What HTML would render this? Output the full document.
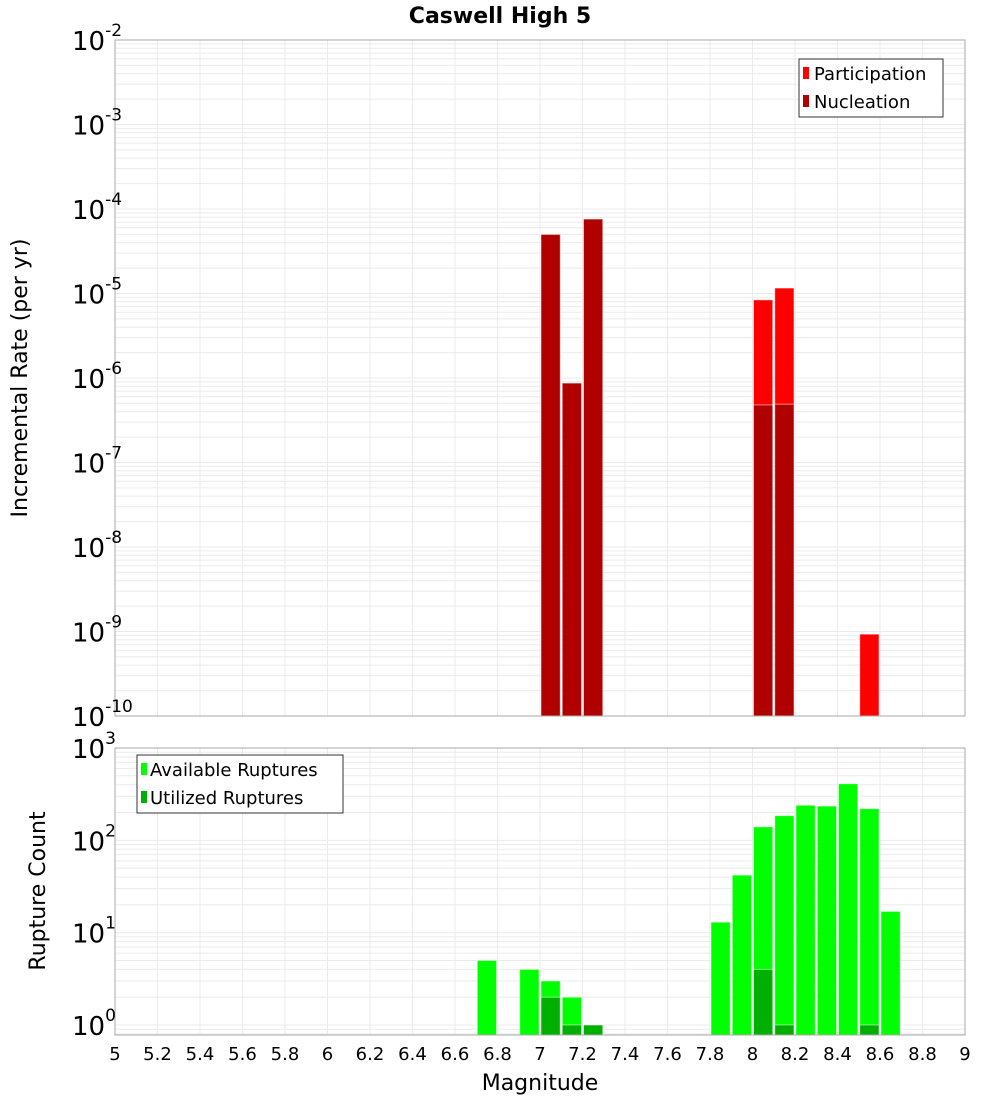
<!DOCTYPE html>
<html><head><meta charset="utf-8"><style>
body{margin:0;background:#fff;font-family:"Liberation Sans","DejaVu Sans",sans-serif}
</style></head><body>
<svg id="chart" width="1000" height="1100" xmlns="http://www.w3.org/2000/svg" font-family="DejaVu Sans, Liberation Sans, sans-serif">
<text x="500" y="23" text-anchor="middle" font-size="22" font-weight="bold">Caswell High 5</text>
<g id="top"></g>
<g id="bot"></g>
<text transform="translate(27,378) rotate(-90)" text-anchor="middle" font-size="22">Incremental Rate (per yr)</text>
<text transform="translate(45,891) rotate(-90)" text-anchor="middle" font-size="22">Rupture Count</text>
<text x="540" y="1090" text-anchor="middle" font-size="22">Magnitude</text>
<g>
<rect x="799" y="59" width="144" height="58" fill="#fff" stroke="#333"/>
<rect x="803" y="67" width="6" height="12" fill="#ff0000"/>
<text x="814" y="80" font-size="18">Participation</text>
<rect x="803" y="95" width="6" height="12" fill="#b00000"/>
<text x="814" y="108" font-size="18">Nucleation</text>
</g>
</svg>
<script>
const ns="http://www.w3.org/2000/svg";
const bins=[6.7,6.8,6.9,7.0,7.1,7.2,7.8,7.9,8.0,8.1,8.2,8.3,8.4,8.5,8.6];
const participation=[0,0,0,5.0e-5,8.7e-7,7.6e-5,0,0,8.4e-6,1.16e-5,0,0,0,9.3e-10,0];
const nucleation=[0,0,0,5.0e-5,8.7e-7,7.6e-5,0,0,4.8e-7,4.9e-7,0,0,0,0,0];
const available=[5,0,4,3,2,1,13,42,140,185,240,235,410,220,17];
const utilized=[0,0,0,2,1,1,0,0,4,1,0,0,0,1,0];
const xTicks=[5,5.2,5.4,5.6,5.8,6,6.2,6.4,6.6,6.8,7,7.2,7.4,7.6,7.8,8,8.2,8.4,8.6,8.8,9];
const topExps=[-2,-3,-4,-5,-6,-7,-8,-9,-10];
const botExps=[3,2,1,0];
const X0=115,X1=965;
const xs=m=>X0+(m-5)/4*(X1-X0);
const TT=40,TB=716,BT=748,BB=1035;
const yTop=v=>TT+(-2-Math.log10(v))/8*(TB-TT);
const dB=(1025-748)/3;
const yBot=v=>BT+(3-Math.log10(v))*dB;
function el(p,t,a){const e=document.createElementNS(ns,t);for(const k in a)e.setAttribute(k,a[k]);p.appendChild(e);return e;}
function frame(g,top,bot,yf,lo,hi){
  el(g,'rect',{x:X0,y:top,width:X1-X0,height:bot-top,fill:'#fff'});
  for(let d=lo;d<hi;d++)for(let k=1;k<10;k++){const y=yf(k*Math.pow(10,d));if(y>=top&&y<=bot){const l=el(g,'line',{x1:X0,x2:X1,y1:y,y2:y,stroke:'#ebebeb','stroke-width':1});}}
  xTicks.forEach(t=>{const l=el(g,'line',{x1:xs(t),x2:xs(t),y1:top,y2:bot,stroke:'#ebebeb'});});
}
function bar(g,m,v,yf,bot,col,name){
  if(!v)return;const y=Math.max(yf(v),0);
  const r=el(g,'rect',{x:xs(m)+1,y:y,width:xs(m+0.1)-xs(m)-2,height:bot-y,fill:col,stroke:'rgba(255,255,255,0.5)','stroke-width':1});
  
}
const gt=document.getElementById('top'),gb=document.getElementById('bot');
frame(gt,TT,TB,yTop,-10,-2);
bins.forEach((m,i)=>bar(gt,m,participation[i],yTop,TB,'#ff0000','bar-participation'));
bins.forEach((m,i)=>bar(gt,m,nucleation[i],yTop,TB,'#b00000','bar-nucleation'));
el(gt,'rect',{x:X0,y:TT,width:X1-X0,height:TB-TT,fill:'none',stroke:'#aaa'});
topExps.forEach(e=>{const y=yTop(Math.pow(10,e));const t=el(gt,'text',{x:72,y:y+10,'font-size':26});t.textContent='10';const s=el(t,'tspan',{dy:-14,'font-size':17});s.textContent=String(e);});
frame(gb,BT,BB,yBot,-1,3);
bins.forEach((m,i)=>bar(gb,m,available[i],yBot,BB,'#00ff00','bar-available'));
bins.forEach((m,i)=>bar(gb,m,utilized[i],yBot,BB,'#00b000','bar-utilized'));
el(gb,'rect',{x:X0,y:BT,width:X1-X0,height:BB-BT,fill:'none',stroke:'#aaa'});
botExps.forEach(e=>{const y=yBot(Math.pow(10,e));const t=el(gb,'text',{x:72,y:y+10,'font-size':26});t.textContent='10';const s=el(t,'tspan',{dy:-14,'font-size':17});s.textContent=String(e);});
xTicks.forEach(v=>{const t=el(gb,'text',{x:xs(v),y:1060,'text-anchor':'middle','font-size':18});t.textContent=String(v);});
const lg=el(gb,'g',{});


el(lg,'rect',{x:137,y:755,width:206,height:58,fill:'#fff',stroke:'#333'});
el(lg,'rect',{x:141,y:763,width:6,height:12,fill:'#00ff00'});
let t1=el(lg,'text',{x:150,y:776,'font-size':18});t1.textContent='Available Ruptures';


el(lg,'rect',{x:141,y:791,width:6,height:12,fill:'#00b000'});
let t2=el(lg,'text',{x:150,y:804,'font-size':18});t2.textContent='Utilized Ruptures';


</script>
</body></html>
